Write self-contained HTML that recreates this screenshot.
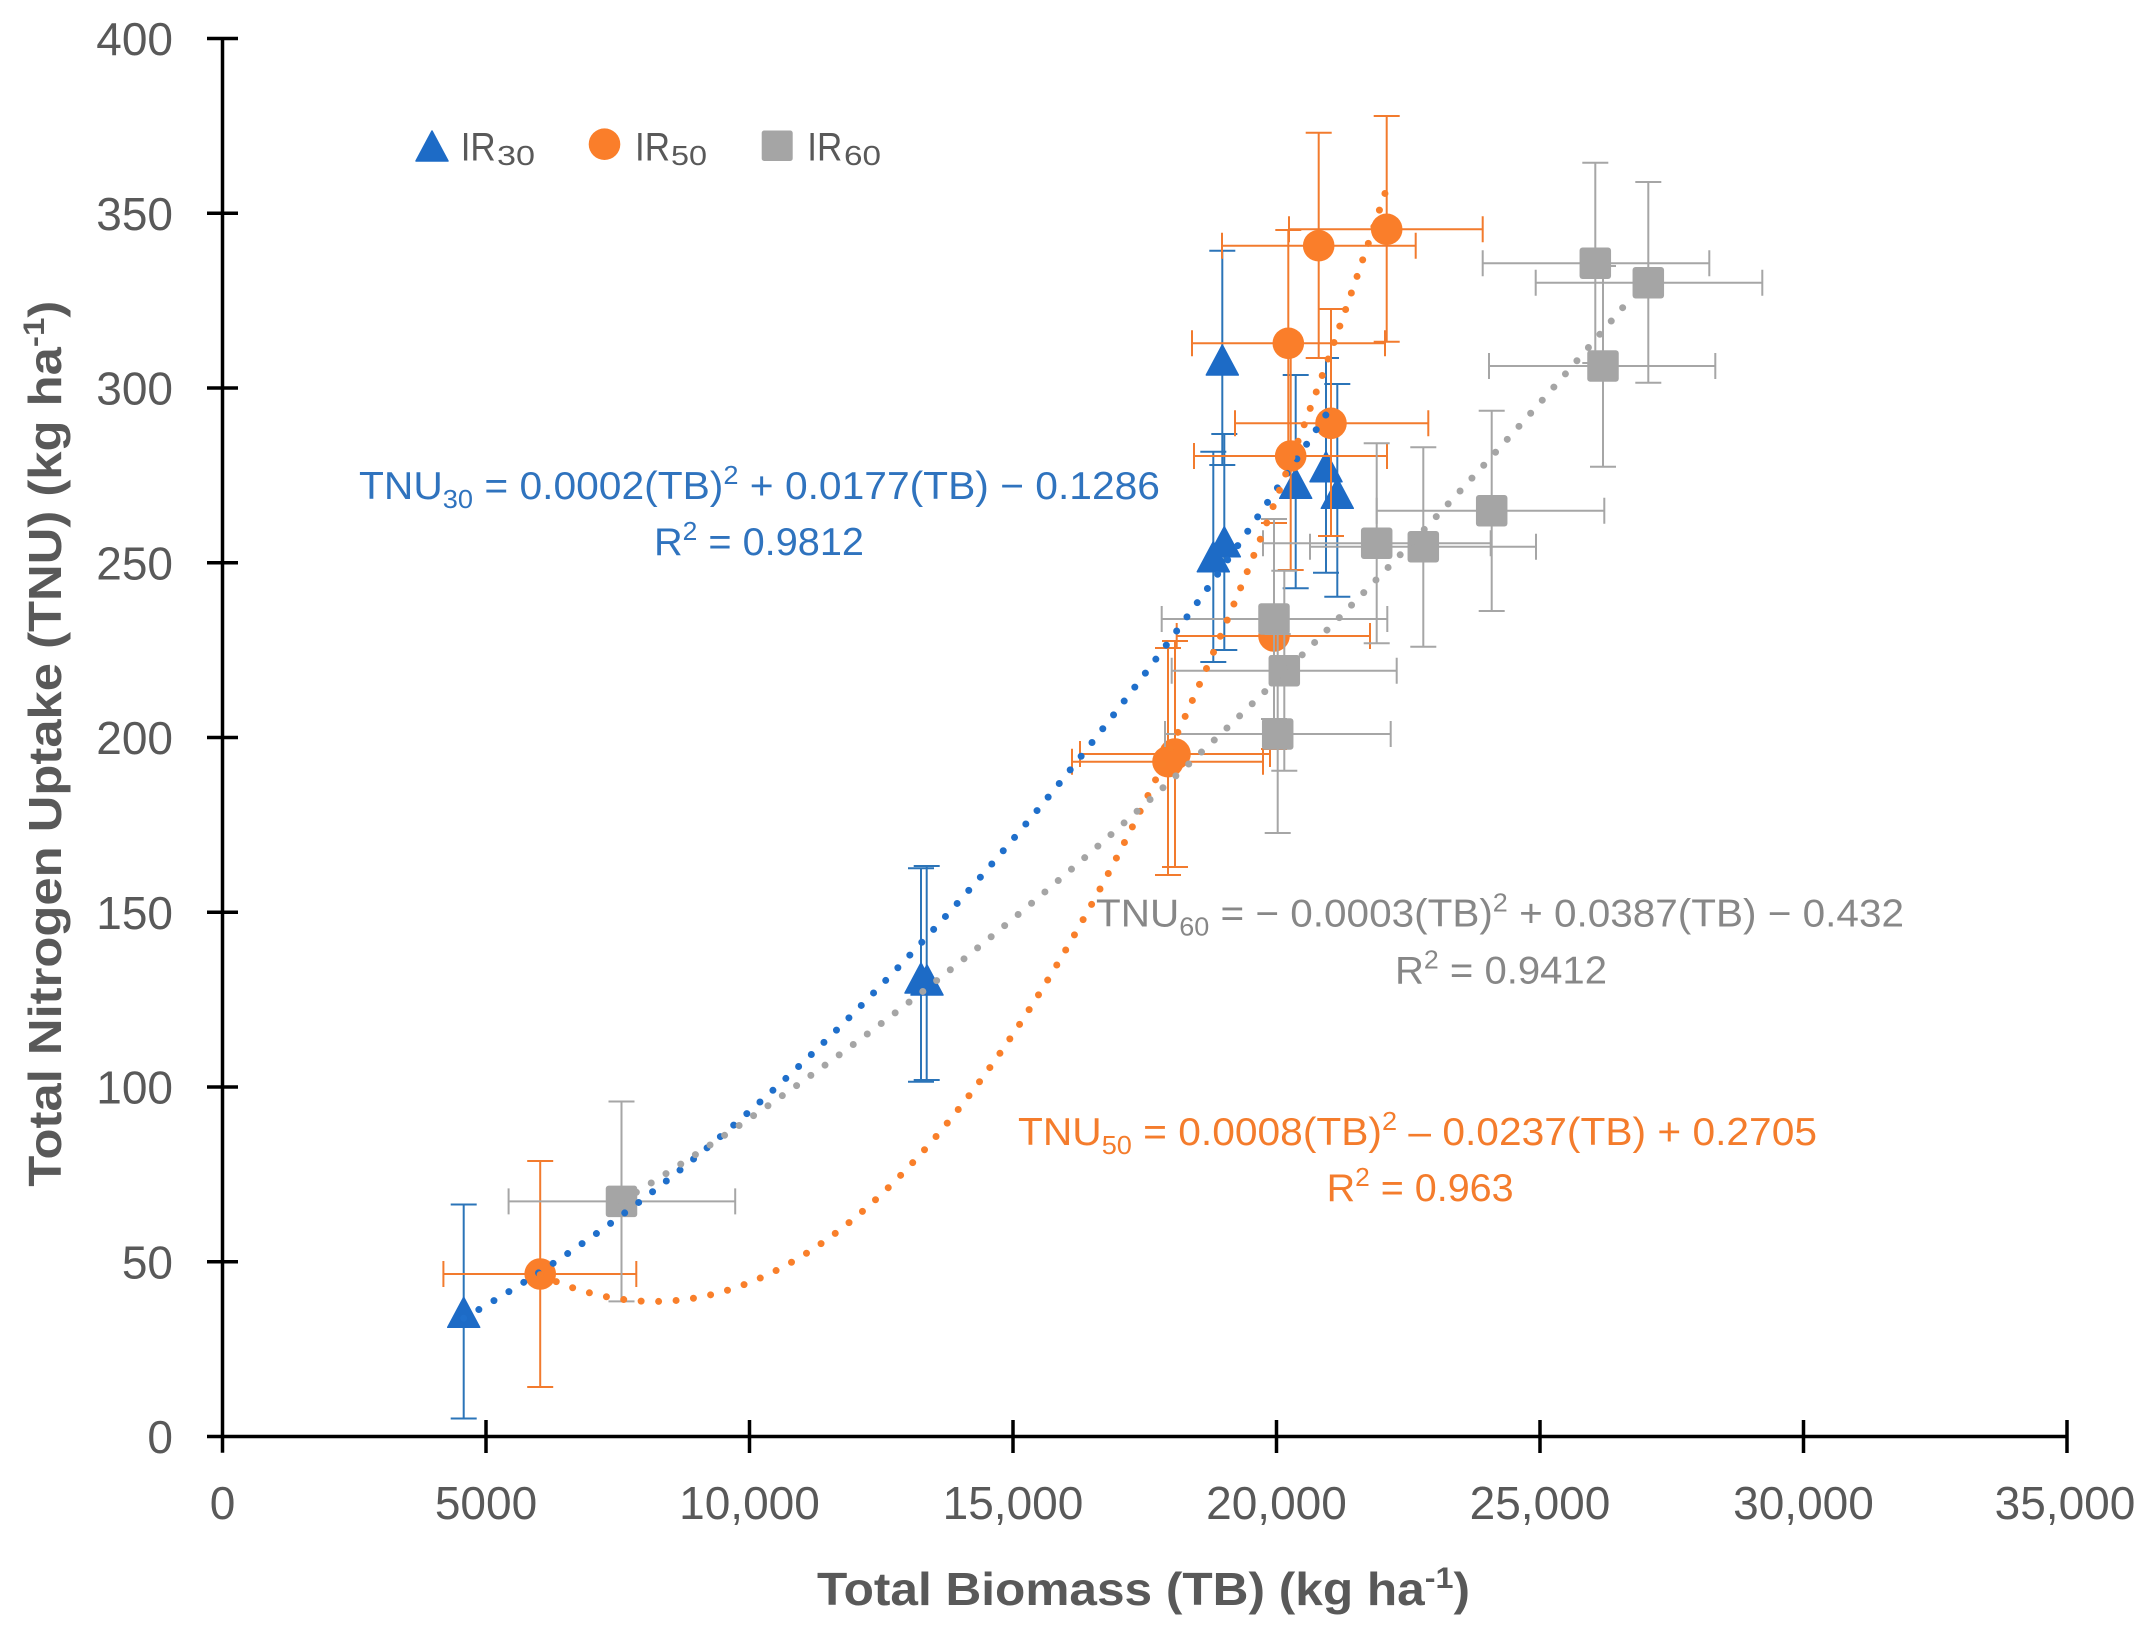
<!DOCTYPE html>
<html>
<head>
<meta charset="utf-8">
<style>
  html,body{margin:0;padding:0;background:#fff;}
  svg{display:block;}
  text{font-family:"Liberation Sans", Arial, sans-serif;}
</style>
</head>
<body>
<svg width="2148" height="1637" viewBox="0 0 2148 1637" xmlns="http://www.w3.org/2000/svg">
  <rect width="2148" height="1637" fill="#ffffff"/>

  <!-- Axes -->
  <g stroke="#000" stroke-width="3.5" fill="none">
    <path d="M222.5 38.5V1452.7"/>
    <path d="M207 1436.5H2067"/>
    <!-- y ticks -->
    <path d="M207 38.5H238M207 213.25H238M207 388H238M207 562.75H238M207 737.5H238M207 912.25H238M207 1087H238M207 1261.75H238"/>
    <!-- x ticks -->
    <path d="M486 1420V1453M749.5 1420V1453M1013 1420V1453M1276.5 1420V1453M1540 1420V1453M1803.5 1420V1453M2067 1420V1453"/>
  </g>

  <!-- Y tick labels -->
  <g font-size="46" fill="#595959" text-anchor="end">
    <text x="173" y="55">400</text>
    <text x="173" y="229.75">350</text>
    <text x="173" y="404.5">300</text>
    <text x="173" y="579.25">250</text>
    <text x="173" y="754">200</text>
    <text x="173" y="928.75">150</text>
    <text x="173" y="1103.5">100</text>
    <text x="173" y="1278.25">50</text>
    <text x="173" y="1453">0</text>
  </g>
  <!-- X tick labels -->
  <g font-size="46" fill="#595959" text-anchor="middle">
    <text x="222.5" y="1519">0</text>
    <text x="486" y="1519">5000</text>
    <text x="749.5" y="1519">10,000</text>
    <text x="1013" y="1519">15,000</text>
    <text x="1276.5" y="1519">20,000</text>
    <text x="1540" y="1519">25,000</text>
    <text x="1803.5" y="1519">30,000</text>
    <text x="2065" y="1519">35,000</text>
  </g>

  <!-- Axis titles -->
  <text x="817" y="1605" font-size="46" font-weight="bold" fill="#595959" textLength="653" lengthAdjust="spacingAndGlyphs">Total Biomass (TB) (kg ha<tspan font-size="30" dy="-17">-1</tspan><tspan dy="17">)</tspan></text>
  <text transform="translate(61,1186.7) rotate(-90)" x="0" y="0" font-size="46" font-weight="bold" fill="#595959" textLength="886" lengthAdjust="spacingAndGlyphs">Total Nitrogen Uptake (TNU) (kg ha<tspan font-size="30" dy="-17">-1</tspan><tspan dy="17">)</tspan></text>

  <!-- Legend -->
  <polygon points="432,131 416,161 448,161" fill="#1D6BC6" stroke="#1D6BC6" stroke-width="1.5" stroke-linejoin="round"/>
  <text x="460.7" y="160.7" font-size="40" fill="#595959" textLength="35" lengthAdjust="spacingAndGlyphs">IR</text>
  <text x="497" y="165" font-size="28" fill="#595959" textLength="38" lengthAdjust="spacingAndGlyphs">30</text>
  <circle cx="604.5" cy="144.2" r="15.8" fill="#FA7E2A"/>
  <text x="635" y="160.7" font-size="40" fill="#595959" textLength="35" lengthAdjust="spacingAndGlyphs">IR</text>
  <text x="671" y="165" font-size="28" fill="#595959" textLength="36" lengthAdjust="spacingAndGlyphs">50</text>
  <rect x="761.7" y="130.5" width="31" height="30.5" rx="2.5" fill="#A5A5A5"/>
  <text x="807.3" y="160.7" font-size="40" fill="#595959" textLength="35" lengthAdjust="spacingAndGlyphs">IR</text>
  <text x="844" y="165" font-size="28" fill="#595959" textLength="37" lengthAdjust="spacingAndGlyphs">60</text>

  <!-- ===== Series 1: IR30 (blue) ===== -->
  <g stroke="#2B74B8" stroke-width="2" fill="none">
    <path d="M463.7 1204.5V1418.5M450.7 1204.5H476.7M450.7 1418.5H476.7"/>
    <path d="M921 868.3V1081.7M908 868.3H934M908 1081.7H934"/>
    <path d="M926.7 866V1080M913.7 866H939.7M913.7 1080H939.7"/>
    <path d="M1222.3 250.7V465M1209.3 250.7H1235.3M1209.3 465H1235.3"/>
    <path d="M1224.3 434V650M1211.3 434H1237.3M1211.3 650H1237.3"/>
    <path d="M1213.3 451.7V662M1200.3 451.7H1226.3M1200.3 662H1226.3"/>
    <path d="M1295.7 375V588.3M1282.7 375H1308.7M1282.7 588.3H1308.7"/>
    <path d="M1326 358V572.7M1313 358H1339M1313 572.7H1339"/>
    <path d="M1337.3 384V596.7M1324.3 384H1350.3M1324.3 596.7H1350.3"/>
  </g>
  <g fill="#1D6BC6" stroke="#1D6BC6" stroke-width="1.5" stroke-linejoin="round">
    <polygon points="463.7,1297.3 447.7,1327.3 479.7,1327.3"/>
    <polygon points="921,963 905,993 937,993"/>
    <polygon points="927,965 911,995 943,995"/>
    <polygon points="1222.3,345 1206.3,375 1238.3,375"/>
    <polygon points="1224.3,526.7 1208.3,556.7 1240.3,556.7"/>
    <polygon points="1213.3,541.7 1197.3,571.7 1229.3,571.7"/>
    <polygon points="1295.7,468.3 1279.7,498.3 1311.7,498.3"/>
    <polygon points="1326,451.7 1310,481.7 1342,481.7"/>
    <polygon points="1337.3,478.3 1321.3,508.3 1353.3,508.3"/>
  </g>

  <!-- ===== Series 2: IR50 (orange) ===== -->
  <g stroke="#F27B2E" stroke-width="2" fill="none">
    <path d="M540.2 1161V1387M527.2 1161H553.2M527.2 1387H553.2M443.4 1274H636.3M443.4 1261V1287M636.3 1261V1287"/>
    <path d="M1168 648V875M1155 648H1181M1155 875H1181M1072 761.7H1263M1072 748.7V774.7M1263 748.7V774.7"/>
    <path d="M1175 641V867M1162 641H1188M1162 867H1188M1080 754H1270M1080 741V767M1270 741V767"/>
    <path d="M1274 523V749M1261 523H1287M1261 749H1287M1176.7 636H1370M1176.7 623V649M1370 623V649"/>
    <path d="M1288.3 230V456M1275.3 230H1301.3M1275.3 456H1301.3M1192 343.3H1385M1192 330.3V356.3M1385 330.3V356.3"/>
    <path d="M1290.7 342V570M1277.7 342H1303.7M1277.7 570H1303.7M1194 456H1387M1194 443V469M1387 443V469"/>
    <path d="M1331 309V536M1318 309H1344M1318 536H1344M1235 423.3H1428.3M1235 410.3V436.3M1428.3 410.3V436.3"/>
    <path d="M1318.7 132.7V358M1305.7 132.7H1331.7M1305.7 358H1331.7M1222 245.7H1415.7M1222 232.7V258.7M1415.7 232.7V258.7"/>
    <path d="M1386.7 116V341.7M1373.7 116H1399.7M1373.7 341.7H1399.7M1289 229.3H1482.7M1289 216.3V242.3M1482.7 216.3V242.3"/>
  </g>
  <g fill="#FA7E2A">
    <circle cx="540.2" cy="1274" r="15.8"/>
    <circle cx="1168" cy="761.7" r="15.8"/>
    <circle cx="1175" cy="754" r="15.8"/>
    <circle cx="1274" cy="636" r="15.8"/>
    <circle cx="1288.3" cy="343.3" r="15.8"/>
    <circle cx="1290.7" cy="456" r="15.8"/>
    <circle cx="1331" cy="423.3" r="15.8"/>
    <circle cx="1318.7" cy="245.7" r="15.8"/>
    <circle cx="1386.7" cy="229.3" r="15.8"/>
  </g>

  <!-- ===== Series 3: IR60 (gray) ===== -->
  <g stroke="#A6A6A6" stroke-width="2" fill="none">
    <path d="M621.5 1101.5V1301.4M608.5 1101.5H634.5M608.5 1301.4H634.5M508.6 1201.4H735.2M508.6 1188.4V1214.4M735.2 1188.4V1214.4"/>
    <path d="M1274 519V719M1261 519H1287M1261 719H1287M1161.7 619H1387.3M1161.7 606V632M1387.3 606V632"/>
    <path d="M1284.3 570.7V770.7M1271.3 570.7H1297.3M1271.3 770.7H1297.3M1171.7 670.7H1396.7M1171.7 657.7V683.7M1396.7 657.7V683.7"/>
    <path d="M1277.7 634V833M1264.7 634H1290.7M1264.7 833H1290.7M1165 734H1390.7M1165 721V747M1390.7 721V747"/>
    <path d="M1376.7 443.3V643.3M1363.7 443.3H1389.7M1363.7 643.3H1389.7M1263 543.3H1490.7M1263 530.3V556.3M1490.7 530.3V556.3"/>
    <path d="M1423.3 447.3V646.7M1410.3 447.3H1436.3M1410.3 646.7H1436.3M1310 546.7H1536M1310 533.7V559.7M1536 533.7V559.7"/>
    <path d="M1491.7 410.7V611M1478.7 410.7H1504.7M1478.7 611H1504.7M1376.7 510.7H1604.3M1376.7 497.7V523.7M1604.3 497.7V523.7"/>
    <path d="M1595.3 162.7V363M1582.3 162.7H1608.3M1582.3 363H1608.3M1482.7 263.3H1709.3M1482.7 250.3V276.3M1709.3 250.3V276.3"/>
    <path d="M1648.3 182V382.7M1635.3 182H1661.3M1635.3 382.7H1661.3M1535.7 282.7H1762.3M1535.7 269.7V295.7M1762.3 269.7V295.7"/>
    <path d="M1603 266V466.7M1590 266H1616M1590 466.7H1616M1489 366H1715.3M1489 353V379M1715.3 353V379"/>
  </g>
  <g fill="#A5A5A5">
    <rect x="605.75" y="1185.65" width="31.5" height="31.5" rx="3"/>
    <rect x="1258.25" y="603.25" width="31.5" height="31.5" rx="3"/>
    <rect x="1268.55" y="654.95" width="31.5" height="31.5" rx="3"/>
    <rect x="1261.95" y="718.25" width="31.5" height="31.5" rx="3"/>
    <rect x="1360.95" y="527.55" width="31.5" height="31.5" rx="3"/>
    <rect x="1407.55" y="530.95" width="31.5" height="31.5" rx="3"/>
    <rect x="1475.95" y="494.95" width="31.5" height="31.5" rx="3"/>
    <rect x="1579.55" y="247.55" width="31.5" height="31.5" rx="3"/>
    <rect x="1632.55" y="266.95" width="31.5" height="31.5" rx="3"/>
    <rect x="1587.25" y="350.25" width="31.5" height="31.5" rx="3"/>
  </g>

  <!-- ===== Trendlines (dotted) ===== -->
  <g fill="none" stroke-width="7" stroke-linecap="round" stroke-dasharray="0 17.5">
    <path d="M463.7 1318.2Q897.7 1073.7 1331.7 406" stroke="#1F6FCB"/>
    <path d="M540.2 1274.6Q962.6 1474 1385 193.3" stroke="#F97F2A"/>
    <path d="M621.5 1201.4Q1123.1 894.25 1624.7 305.3" stroke="#A5A5A5"/>
  </g>

  <!-- ===== Equations ===== -->
  <text x="359" y="499" font-size="39" fill="#2F73BE" textLength="801" lengthAdjust="spacingAndGlyphs">TNU<tspan font-size="26" dy="9">30</tspan><tspan dy="-9"> = 0.0002(TB)</tspan><tspan font-size="26" dy="-15">2</tspan><tspan dy="15"> + 0.0177(TB) − 0.1286</tspan></text>
  <text x="654" y="555" font-size="39" fill="#2F73BE" textLength="210" lengthAdjust="spacingAndGlyphs">R<tspan font-size="26" dy="-15">2</tspan><tspan dy="15"> = 0.9812</tspan></text>

  <text x="1096" y="926.7" font-size="39" fill="#878787" textLength="808" lengthAdjust="spacingAndGlyphs">TNU<tspan font-size="26" dy="9">60</tspan><tspan dy="-9"> = − 0.0003(TB)</tspan><tspan font-size="26" dy="-15">2</tspan><tspan dy="15"> + 0.0387(TB) − 0.432</tspan></text>
  <text x="1395" y="983.3" font-size="39" fill="#878787" textLength="212" lengthAdjust="spacingAndGlyphs">R<tspan font-size="26" dy="-15">2</tspan><tspan dy="15"> = 0.9412</tspan></text>

  <text x="1018" y="1145" font-size="39" fill="#F47C2C" textLength="799" lengthAdjust="spacingAndGlyphs">TNU<tspan font-size="26" dy="9">50</tspan><tspan dy="-9"> = 0.0008(TB)</tspan><tspan font-size="26" dy="-15">2</tspan><tspan dy="15"> – 0.0237(TB) + 0.2705</tspan></text>
  <text x="1326.6" y="1201" font-size="39" fill="#F47C2C" textLength="187" lengthAdjust="spacingAndGlyphs">R<tspan font-size="26" dy="-15">2</tspan><tspan dy="15"> = 0.963</tspan></text>
</svg>
</body>
</html>
